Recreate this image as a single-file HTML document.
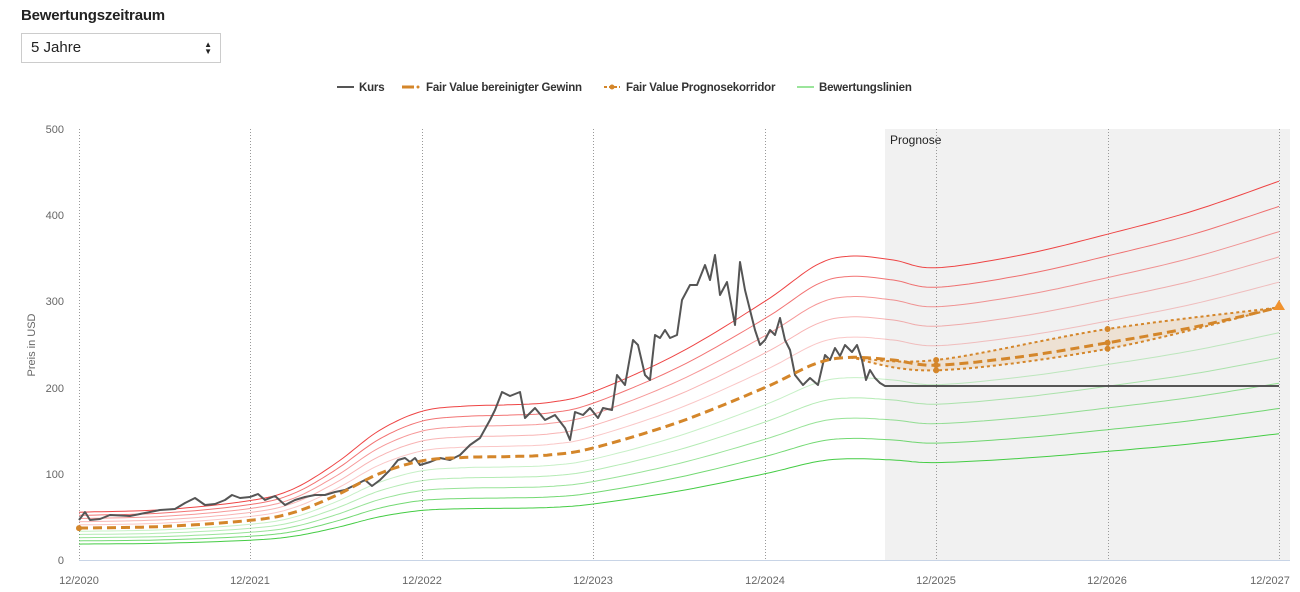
<!DOCTYPE html>
<html><head><meta charset="utf-8"><style>
body{margin:0;background:#fff;font-family:"Liberation Sans",Arial,sans-serif;}
.t{position:absolute;left:21px;top:7px;font-size:15px;font-weight:bold;color:#222;letter-spacing:-0.2px}
.sel{position:absolute;left:21px;top:33px;width:200px;height:30px;border:1px solid #ccc;box-sizing:border-box;font-size:15px;color:#222;padding:5px 9px;}
.sel span{position:absolute;right:8px;top:7px;font-size:8px;line-height:7px}
</style></head><body>
<div class="t">Bewertungszeitraum</div>
<div class="sel">5 Jahre<span>▲<br>▼</span></div>
<svg id="s" width="1300" height="592" style="position:absolute;left:0;top:0" font-family="Liberation Sans, Arial, sans-serif">
<g font-size="11.5" font-weight="bold" fill="#333" letter-spacing="-0.2">
<line x1="337" y1="87" x2="354" y2="87" stroke="#555" stroke-width="2"/><text x="359" y="91">Kurs</text>
<line x1="402" y1="87" x2="414" y2="87" stroke="#d4862a" stroke-width="3"/><circle cx="418" cy="87" r="1.5" fill="#d4862a"/><text x="426" y="91">Fair Value bereinigter Gewinn</text>
<line x1="604" y1="87" x2="620" y2="87" stroke="#d4862a" stroke-width="2" stroke-dasharray="3,2"/><circle cx="612" cy="87" r="2.5" fill="#d4862a"/><text x="626" y="91">Fair Value Prognosekorridor</text>
<line x1="797" y1="87" x2="814" y2="87" stroke="#9be59b" stroke-width="2"/><text x="819" y="91">Bewertungslinien</text>
</g>
<rect x="885" y="129" width="405" height="431" fill="#f1f1f1"/>
<text x="890" y="144" font-size="12" fill="#222">Prognose</text>
<g id="grid" stroke="#999" stroke-dasharray="1,2" stroke-width="1"></g>
<line x1="79" y1="560.5" x2="1290" y2="560.5" stroke="#c8d4e6"/>
<g font-size="11" fill="#666" text-anchor="end">
<text x="64" y="133">500</text><text x="64" y="219">400</text><text x="64" y="305">300</text><text x="64" y="392">200</text><text x="64" y="478">100</text><text x="64" y="564">0</text>
</g>
<text transform="translate(35,345) rotate(-90)" font-size="11" fill="#666" text-anchor="middle">Preis in USD</text>
<g font-size="11" fill="#666" text-anchor="middle">
<text x="79" y="584">12/2020</text><text x="250" y="584">12/2021</text><text x="422" y="584">12/2022</text><text x="593" y="584">12/2023</text><text x="765" y="584">12/2024</text><text x="936" y="584">12/2025</text><text x="1107" y="584">12/2026</text><text x="1270" y="584">12/2027</text>
</g>
<g id="lines"></g>
</svg>
<script>
var NS="http://www.w3.org/2000/svg",s=document.getElementById('s');
function X(t){return 79+t*171.43}function Y(v){return 560-v*0.862}
function el(p,tag,a){var e=document.createElementNS(NS,tag);for(var k in a)e.setAttribute(k,a[k]);p.appendChild(e);return e}
var g=document.getElementById('grid');
for(var i=0;i<8;i++){var x=Math.round(X(i))+0.5;el(g,'line',{x1:x,x2:x,y1:129,y2:560})}
function cr(P,n){var o=[];for(var i=0;i<P.length-1;i++){var p0=P[Math.max(0,i-1)],p1=P[i],p2=P[i+1],p3=P[Math.min(P.length-1,i+2)];
for(var j=0;j<n;j++){var t=j/n,t2=t*t,t3=t2*t;o.push([0.5*((2*p1[0])+(-p0[0]+p2[0])*t+(2*p0[0]-5*p1[0]+4*p2[0]-p3[0])*t2+(-p0[0]+3*p1[0]-3*p2[0]+p3[0])*t3),
0.5*((2*p1[1])+(-p0[1]+p2[1])*t+(2*p0[1]-5*p1[1]+4*p2[1]-p3[1])*t2+(-p0[1]+3*p1[1]-3*p2[1]+p3[1])*t3)])}}o.push(P[P.length-1]);return o}
var FV=[[0,37],[0.5,39],[1,46],[1.25,55],[1.5,75],[1.75,100],[2,115],[2.25,119],[2.5,120],[2.75,122],[3,130],[3.5,160],[4,200],[4.3,228],[4.5,235],[4.75,232],[5,226],[5.5,236],[6,252],[6.5,270],[7,293]];
var fv=cr(FV,12);var L=document.getElementById('lines');
function path(pts,f){return pts.map(function(p,i){return(i?'L':'M')+X(p[0]).toFixed(1)+' '+Y(p[1]*f).toFixed(1)}).join('')}
var ms=[1.5,1.4,1.3,1.2,1.1,0.9,0.8,0.7,0.6,0.5],ops=[1,.75,.55,.4,.3,.3,.4,.55,.75,1];
ms.forEach(function(m,i){el(L,'path',{d:path(fv,m),fill:'none',stroke:m>1?'#ee4444':'#44cc44','stroke-opacity':ops[i],'stroke-width':1})});
var up=cr([[4.5,235],[5,232],[6,268],[7,293]],12),lo=cr([[4.5,235],[5,220],[6,245],[7,293]],12);
var d=path(up,1)+lo.slice().reverse().map(function(p){return'L'+X(p[0]).toFixed(1)+' '+Y(p[1]).toFixed(1)}).join('')+'Z';
el(L,'path',{d:d,fill:'#d4862a','fill-opacity':0.15,stroke:'none'});
el(L,'path',{d:path(up,1),fill:'none',stroke:'#d4862a','stroke-width':2,'stroke-dasharray':'3,3'});
el(L,'path',{d:path(lo,1),fill:'none',stroke:'#d4862a','stroke-width':2,'stroke-dasharray':'3,3'});
[[5,232],[5,220],[6,268],[6,245],[5,226],[6,252],[0,37]].forEach(function(p){el(L,'circle',{cx:X(p[0]),cy:Y(p[1]),r:3,fill:'#d4862a'})});
var K=[[79,520],[85,512],[90,520],[100,519],[110,515],[130,516],[150,512],[160,510],[175,509],[185,503],[195,498],[205,505],[215,504],[225,500],[232,495],[240,498],[250,497],[258,494],[265,500],[275,496],[285,505],[295,500],[305,497],[315,495],[325,495],[335,492],[345,490],[355,485],[365,480],[372,486],[380,480],[390,470],[398,460],[405,458],[410,462],[415,458],[420,465],[430,462],[440,458],[450,460],[460,455],[470,445],[480,438],[490,420],[495,410],[502,392],[510,396],[520,392],[525,418],[535,408],[545,420],[555,415],[565,428],[570,440],[575,412],[583,415],[590,408],[598,418],[603,408],[612,410],[617,375],[625,385],[633,340],[638,345],[645,375],[650,380],[655,335],[660,338],[665,330],[670,338],[677,335],[682,300],[690,285],[697,285],[705,265],[710,280],[715,255],[720,295],[727,282],[735,325],[740,262],[745,290],[755,330],[760,345],[765,340],[770,330],[775,335],[780,318],[785,340],[790,350],[795,375],[803,385],[810,378],[818,385],[825,355],[830,360],[835,348],[840,356],[845,345],[852,352],[857,345],[862,360],[866,380],[870,370],[875,378],[880,383],[885,386],[1279,386]];
el(L,'path',{d:K.map(function(p,i){return(i?'L':'M')+p[0]+' '+p[1]}).join(''),fill:'none',stroke:'#555','stroke-width':2,'stroke-linejoin':'round'});
el(L,'path',{d:path(fv,1),fill:'none',stroke:'#d4862a','stroke-width':3,'stroke-dasharray':'9,5'});
el(L,'path',{d:'M1279 300 L1285 310 L1273 310Z',fill:'#f0922e'});
</script>
</body></html>
